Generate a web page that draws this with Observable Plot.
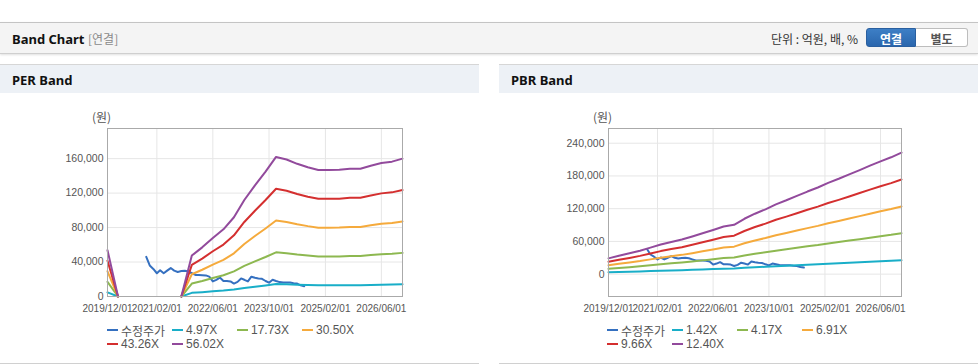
<!DOCTYPE html>
<html>
<head>
<meta charset="utf-8">
<script src="https://cdn.jsdelivr.net/npm/d3@7"></script>
<script src="https://cdn.jsdelivr.net/npm/@observablehq/plot@0.6"></script>
<style>
  html, body { margin:0; padding:0; background:#fff; }
  body { width:978px; height:364px; position:relative; overflow:hidden;
         font-family:"Liberation Sans","Noto Sans CJK KR",Arial,sans-serif; }
  .topbar { position:absolute; left:0; top:22px; width:978px; height:30px; background:#f4f4f4;
            border-top:1px solid #c4c4c4; border-bottom:1px solid #cfcfcf; box-shadow:0 1px 2px rgba(0,0,0,0.12); }
  .title { position:absolute; left:12px; top:8px; font-family:"Noto Sans","Noto Sans CJK KR",sans-serif; font-weight:bold; font-size:13px; color:#111; line-height:16px; }
  .sub { position:absolute; left:88px; top:8px; font-size:12px; color:#8a8a8a; line-height:16px; font-family:"Noto Sans CJK KR",sans-serif; }
  .unit { position:absolute; right:120px; top:8px; font-size:12px; color:#333; line-height:16px; font-family:"Noto Sans CJK KR",sans-serif; }
  .btn { position:absolute; top:5px; height:19px; width:50px; font-size:12px; font-weight:bold; text-align:center; line-height:19px; font-family:"Noto Sans CJK KR",sans-serif; box-sizing:border-box; }
  .b1 { left:866px; background:linear-gradient(#3d7fc6,#2a66ad); color:#fff; border-radius:3px 0 0 3px; border:1px solid #2a5f9f; }
  .b2 { left:916px; width:52px; background:#fff; color:#555; border:1px solid #bdbdbd; border-left:none; border-radius:0 3px 3px 0; }
  .panel { position:absolute; top:64px; width:479px; height:298px; border-top:1px solid #d6d6d6; border-bottom:1px solid #d0d0d0; background:#fff; }
  .phead { position:absolute; left:0; top:0; width:479px; height:28px; background:#edf1f6; }
  .ptitle { position:absolute; left:12px; top:7px; font-family:"Noto Sans",sans-serif; font-weight:bold; font-size:13px; color:#111; line-height:16px; }
  .chart { position:absolute; left:0; top:35px; }
  .unitlab { position:absolute; top:45px; font-size:12px; color:#555; font-family:"Noto Sans CJK KR",sans-serif; line-height:14px; }
  .legend { position:absolute; top:258px; width:300px; display:flex; flex-wrap:wrap; }
  .item { width:65px; height:14px; display:flex; align-items:center; font-size:12px; color:#555; white-space:nowrap; }
  .item .sw { width:11px; height:2px; margin-right:3px; flex:none; }
</style>
</head>
<body>
<div class="topbar">
  <div class="title">Band Chart</div>
  <div class="sub">[연결]</div>
  <div class="unit">단위 : 억원, 배, %</div>
  <div class="btn b1">연결</div>
  <div class="btn b2">별도</div>
</div>
<div class="panel" id="perPanel" style="left:0;">
  <div class="phead"><div class="ptitle">PER Band</div></div>
  <div class="unitlab" style="left:92px;">(원)</div>
  <div class="chart" id="perChart"></div>
  <div class="legend" id="perLegend" style="left:107px;"></div>
</div>
<div class="panel" id="pbrPanel" style="left:499px;">
  <div class="phead"><div class="ptitle">PBR Band</div></div>
  <div class="unitlab" style="left:94px;">(원)</div>
  <div class="chart" id="pbrChart"></div>
  <div class="legend" id="pbrLegend" style="left:108px;"></div>
</div>
<script>
// ---------- shared ----------
const xTickLabels = ["2019/12/01","2021/02/01","2022/06/01","2023/10/01","2025/02/01","2026/06/01"];
const xDomain = ["2019-12-01","2026-12-01"];
const seriesColors = ["#3570c0","#19aec8","#8db850","#f5aa3c","#d42f2f","#924a9c"];

// 수정주가 (adjusted price), monthly
const priceDates = ["2020-11-01","2020-12-01","2021-01-01","2021-02-01","2021-03-01","2021-04-01","2021-05-01","2021-06-01",
  "2021-07-01","2021-08-01","2021-09-01","2021-10-01","2021-11-01","2021-12-01","2022-01-01","2022-02-01","2022-03-01",
  "2022-04-01","2022-05-01","2022-06-01","2022-07-01","2022-08-01","2022-09-01","2022-10-01","2022-11-01","2022-12-01",
  "2023-01-01","2023-02-01","2023-03-01","2023-04-01","2023-05-01","2023-06-01","2023-07-01","2023-08-01","2023-09-01",
  "2023-10-01","2023-11-01","2023-12-01","2024-01-01","2024-02-01","2024-03-01","2024-04-01","2024-05-01","2024-06-01",
  "2024-07-01","2024-08-01"];
const price = [46000,36000,32000,27000,30500,27000,30000,33000,
  30000,28500,29500,30000,29000,27000,25000,25000,24800,
  24500,23000,17500,19400,22000,18000,18000,17500,15000,
  17000,21000,19400,17500,23000,21700,21000,20500,18000,
  16000,19400,18000,16700,16300,16300,16300,15500,15000,
  13000,12000];

// ---------- PER band ----------
const perNames = ["수정주가","4.97X","17.73X","30.50X","43.26X","56.02X"];
const perYTicks = [0,40000,80000,120000,160000];
const perDates = ["2019-12-01","2020-03-01","2020-09-01","2021-09-01","2021-12-01","2022-03-01","2022-06-01","2022-09-01",
  "2022-12-01","2023-03-01","2023-06-01","2023-09-01","2023-12-01","2024-03-01","2024-06-01","2024-09-01","2024-12-01",
  "2025-03-01","2025-06-01","2025-09-01","2025-12-01","2026-03-01","2026-06-01","2026-09-01","2026-12-01"];
const per497 = [4771,0,null,0,4215,5059,6034,6918,8161,9940,11441,12862,14373,14105,13663,13310,13021,13021,13046,13161,13161,13469,13752,13886,14194];
const per1773 = [17021,0,null,0,15035,18049,21524,24680,29113,35460,40814,45885,51275,50318,48740,47481,46453,46453,46541,46949,46949,48048,49059,49538,50637];
const per3050 = [29280,0,null,0,25864,31049,37027,42456,50081,61000,70211,78934,88206,86559,83845,81679,79910,79910,80063,80764,80764,82655,84394,85217,87108];
const per4326 = [41530,0,null,0,36684,44039,52518,60218,71033,86520,99585,111957,125108,122772,118922,115850,113341,113341,113558,114552,114552,117235,119700,120868,123551];
const per5602 = [53779,0,null,0,47505,57028,68008,77980,91985,112040,128958,144980,162010,158985,154001,150021,146772,146772,147053,148341,148341,151814,155007,156520,159993];

// ---------- PBR band ----------
const pbrNames = ["수정주가","1.42X","4.17X","6.91X","9.66X","12.40X"];
const pbrYTicks = [0,60000,120000,180000,240000];
const pbrDates = ["2019-12-01","2020-03-01","2020-06-01","2020-09-01","2020-12-01","2021-03-01","2021-06-01","2021-09-01",
  "2021-12-01","2022-03-01","2022-06-01","2022-09-01","2022-12-01","2023-03-01","2023-06-01","2023-09-01","2023-12-01",
  "2024-03-01","2024-06-01","2024-09-01","2024-12-01","2025-03-01","2025-06-01","2025-09-01","2025-12-01","2026-03-01",
  "2026-06-01","2026-09-01","2026-12-01"];
const pbr142 = [3310,3871,4374,4925,5565,6207,6756,7260,7902,8588,9275,10008,10363,11623,12688,13605,14659,15505,16422,17338,18185,19170,20018,20934,21850,22765,23681,24529,25515];
const pbr417 = [9720,11367,12844,14462,16342,18227,19841,21321,23206,25220,27238,29390,30433,34131,37259,39953,43047,45532,48226,50916,53401,56295,58784,61474,64164,66853,69543,72033,74927];
const pbr691 = [16107,18837,21283,23964,27080,30204,32878,35331,38454,41792,45136,48702,50429,56558,61741,66205,71332,75450,79914,84371,88489,93285,97410,101867,106324,110781,115238,119363,124159];
const pbr966 = [22517,26333,29753,33501,37858,42224,45962,49392,53758,58424,63099,68084,70499,79067,86312,92552,99720,105478,111718,117949,123706,130410,136177,142408,148638,154869,161100,166867,173571];
const pbr1240 = [28904,33802,38192,43003,48596,54200,58999,63401,69006,74995,80997,87395,90495,101494,110794,118804,128005,135396,143406,151404,158794,167400,174803,182801,190799,198797,206795,214198,222803];

// ---------- build ----------
const parse = d3.utcParse("%Y-%m-%d");
const parseTick = d3.utcParse("%Y/%m/%d");
function rows(dates, values, name) {
  return dates.map((d, i) => ({date: parse(d), value: values[i], series: name}));
}
function buildChart(names, dateList, bandList, yDomain, yTicks, marginLeft) {
  const data = [rows(priceDates, price, names[0])];
  bandList.forEach((b, i) => data.push(rows(dateList, b, names[i + 1])));
  const flat = data.flat();
  const xt = xTickLabels.map(parseTick);
  return Plot.plot({
    width: 479, height: 220,
    marginLeft, marginRight: 77, marginTop: 28, marginBottom: 24,
    style: {fontFamily: "'Liberation Sans','Noto Sans CJK KR',Arial,sans-serif", fontSize: "10.5px", color: "#555", background: "transparent", overflow: "visible"},
    x: {type: "utc", domain: xDomain.map(parse), label: null},
    y: {domain: yDomain, label: null},
    color: {domain: names, range: seriesColors},
    marks: [
      Plot.gridX(xt, {stroke: "#e6e6e6", strokeOpacity: 1}),
      Plot.gridY(yTicks, {stroke: "#e6e6e6", strokeOpacity: 1}),
      Plot.axisX(xt, {tickFormat: d3.utcFormat("%Y/%m/%d"), tickSize: 0, tickPadding: 8, label: null,
        fontFamily: "'Liberation Sans',Arial,sans-serif", fontSize: 10, fill: "#555"}),
      Plot.axisY(yTicks, {tickFormat: d3.format(","), tickSize: 0, tickPadding: 4, label: null, fontSize: 10.5, fill: "#555"}),
      Plot.line(flat, {x: "date", y: "value", z: "series", stroke: "series", strokeWidth: 2, curve: "linear"}),
      Plot.frame({stroke: "#aaaaaa"})
    ]
  });
}
function buildLegend(el, names) {
  names.forEach((n, i) => {
    const it = document.createElement("div");
    it.className = "item";
    it.innerHTML = `<span class="sw" style="background:${seriesColors[i]}"></span><span>${n}</span>`;
    el.appendChild(it);
  });
}
document.getElementById("perChart").appendChild(
  buildChart(perNames, perDates, [per497, per1773, per3050, per4326, per5602], [0, 195000], perYTicks, 107));
document.getElementById("pbrChart").appendChild(
  buildChart(pbrNames, pbrDates, [pbr142, pbr417, pbr691, pbr966, pbr1240], [-41000, 267000], pbrYTicks, 109));
buildLegend(document.getElementById("perLegend"), perNames);
buildLegend(document.getElementById("pbrLegend"), pbrNames);
</script>
</body>
</html>
